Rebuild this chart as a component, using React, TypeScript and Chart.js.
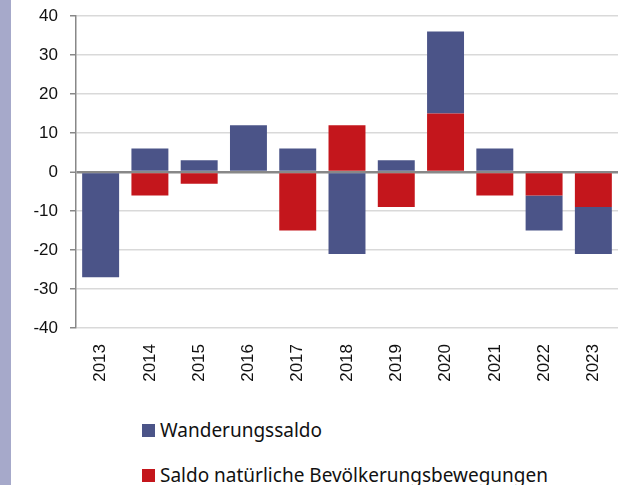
import React, { useEffect, useRef } from "react";
import { Chart, registerables } from "chart.js";

Chart.register(...registerables);

const years = ["2013", "2014", "2015", "2016", "2017", "2018", "2019", "2020", "2021", "2022", "2023"];
const wanderungssaldo = [-27, 6, 3, 12, 6, -21, 3, 21, 6, -9, -12];
const natuerlicherSaldo = [0, -6, -3, 0, -15, 12, -9, 15, -6, -6, -9];
const yTicks = [-40, -30, -20, -10, 0, 10, 20, 30, 40];

const BLUE = "#4b5488";
const RED = "#c4161c";

export default function App() {
  const ref = useRef<HTMLCanvasElement | null>(null);

  useEffect(() => {
    document.body.style.margin = "0";
    const canvas = ref.current;
    if (!canvas) return;
    const chart = new Chart(canvas, {
      type: "bar",
      data: {
        labels: years,
        datasets: [
          {
            label: "Wanderungssaldo",
            data: wanderungssaldo,
            backgroundColor: BLUE,
            order: 1,
            barPercentage: 0.75,
            categoryPercentage: 1,
          },
          {
            label: "Saldo natürliche Bevölkerungsbewegungen",
            data: natuerlicherSaldo,
            backgroundColor: RED,
            order: 0,
            barPercentage: 0.75,
            categoryPercentage: 1,
          },
        ],
      },
      options: {
        responsive: false,
        animation: false,
        layout: { padding: { top: 16, right: 12, left: 0, bottom: 0 } },
        plugins: { legend: { display: false }, tooltip: { enabled: false } },
        scales: {
          x: {
            stacked: true,
            grid: { display: false },
            border: { display: false },
            ticks: {
              minRotation: 90,
              maxRotation: 90,
              padding: 8,
              color: "#111",
              font: { family: "Liberation Sans", size: 17 },
            },
            afterFit: (s: any) => {
              s.height = 67;
              s.paddingLeft = 0;
              s.paddingRight = 0;
            },
          },
          y: {
            stacked: true,
            min: -40,
            max: 40,
            afterBuildTicks: (s: any) => {
              s.ticks = yTicks.map((v) => ({ value: v }));
            },
            grid: {
              color: (c: any) => (c.tick && c.tick.value === 0 ? "#888888" : "#d9d9d9"),
              lineWidth: (c: any) => (c.tick && c.tick.value === 0 ? 2.5 : 1.5),
              tickColor: "#888888",
              tickLength: 6,
              tickWidth: 1.5,
            },
            border: { display: true, color: "#888888", width: 1.5 },
            ticks: {
              padding: 12,
              color: "#111",
              font: { family: "Liberation Sans", size: 17 },
            },
            afterFit: (s: any) => {
              s.width = 76;
              s.paddingTop = 0;
              s.paddingBottom = 0;
            },
          },
        },
      },
    });
    return () => chart.destroy();
  }, []);

  const legendItem = (color: string, text: string, top: number) => (
    <div
      style={{
        position: "absolute",
        left: 142,
        top,
        display: "flex",
        alignItems: "center",
        height: 20,
        fontFamily: "'Noto Sans', sans-serif",
        fontSize: 19,
        color: "#111",
        whiteSpace: "nowrap",
      }}
    >
      <span style={{ display: "inline-block", width: 13, height: 13, background: color, marginRight: 5 }} />
      <span>{text}</span>
    </div>
  );

  return (
    <div style={{ position: "relative", width: 630, height: 485, background: "#fff", overflow: "hidden" }}>
      <div style={{ position: "absolute", left: 0, top: 0, width: 11, height: 485, background: "#a6a9ca" }} />
      <canvas ref={ref} width={630} height={395} style={{ position: "absolute", left: 0, top: 0 }} />
      {legendItem(BLUE, "Wanderungssaldo", 420)}
      {legendItem(RED, "Saldo natürliche Bevölkerungsbewegungen", 465)}
    </div>
  );
}
